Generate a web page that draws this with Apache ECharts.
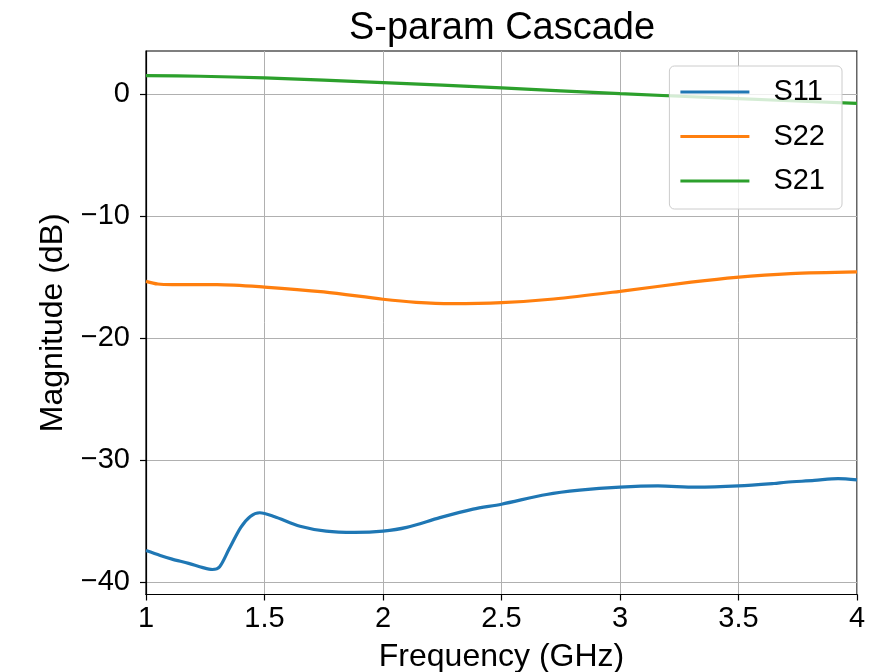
<!DOCTYPE html>
<html>
<head>
<meta charset="utf-8">
<script src="https://cdn.jsdelivr.net/npm/echarts@6/dist/echarts.min.js"></script>
<style>
  html, body { margin: 0; padding: 0; background: #fff; }
  #chart { width: 893px; height: 672px; }
</style>
</head>
<body>
<div id="chart"></div>
<script>
// Frequency sweep (GHz) and magnitudes (dB) for each S-parameter
const s11Freq = [1.00, 1.06, 1.11, 1.18, 1.24, 1.28, 1.31, 1.35, 1.40, 1.44, 1.48, 1.54, 1.65, 1.76, 1.88, 2.00, 2.10, 2.24, 2.38, 2.50, 2.69, 2.83, 3.00, 3.16, 3.32, 3.50, 3.65, 3.70, 3.82, 3.92, 4.00];
const s11Mag  = [-37.4, -37.8, -38.1, -38.45, -38.8, -38.95, -38.75, -37.3, -35.5, -34.6, -34.3, -34.6, -35.4, -35.8, -35.9, -35.8, -35.5, -34.7, -34.0, -33.6, -32.8, -32.45, -32.2, -32.1, -32.2, -32.1, -31.9, -31.8, -31.65, -31.5, -31.6];

const s22Freq = [1.00, 1.05, 1.11, 1.30, 1.50, 1.75, 2.00, 2.14, 2.29, 2.50, 2.72, 3.00, 3.30, 3.49, 3.72, 4.00];
const s22Mag  = [-15.33, -15.55, -15.6, -15.6, -15.8, -16.2, -16.8, -17.05, -17.16, -17.08, -16.78, -16.15, -15.4, -15.0, -14.7, -14.56];

const s21Freq = [1.00, 1.23, 1.50, 2.00, 2.50, 3.00, 3.50, 4.00];
const s21Mag  = [1.53, 1.48, 1.34, 0.96, 0.52, 0.05, -0.36, -0.74];

const yTicks = [-40, -30, -20, -10, 0];
const seriesNames = ['S11', 'S22', 'S21'];
const seriesColors = ['#1f77b4', '#ff7f0e', '#2ca02c'];

const pairs = (xs, ys) => xs.map((x, i) => [x, ys[i]]);
const minusFmt = v => (v < 0 ? '\u2212' + Math.abs(v) : String(v));

const FONT = '"Liberation Sans", Arial, Helvetica, sans-serif';

const chart = echarts.init(document.getElementById('chart'), null, { renderer: 'canvas' });

const mkSeries = (name, data, color) => ({
  name: name,
  type: 'line',
  data: data,
  showSymbol: false,
  smooth: 0.3,
  lineStyle: { color: color, width: 3.2 },
  itemStyle: { color: color },
  clip: true,
  animation: false
});

chart.setOption({
  animation: false,
  backgroundColor: '#ffffff',
  title: {
    text: 'S-param Cascade',
    left: 497,
    textAlign: 'center',
    top: 5,
    textStyle: { fontFamily: FONT, fontSize: 38, fontWeight: 'normal', color: '#000' }
  },
  grid: {
    left: 146, right: 36, top: 51, bottom: 77.5,
    show: true, borderColor: '#000', borderWidth: 1.2,
    containLabel: false,
    outerBoundsMode: 'none'
  },
  legend: {
    data: seriesNames.map((n, i) => ({ name: n, icon: 'rect', itemStyle: { color: seriesColors[i] } })),
    orient: 'vertical',
    right: 51,
    top: 66,
    itemWidth: 69,
    itemHeight: 3,
    itemGap: 14.5,
    padding: [11, 17, 13, 11],
    backgroundColor: 'rgba(255,255,255,0.8)',
    borderColor: '#cccccc',
    borderWidth: 1,
    borderRadius: 5,
    textStyle: { fontFamily: FONT, fontSize: 29, color: '#000', lineHeight: 30, padding: [0, 0, 0, 19] }
  },
  xAxis: {
    type: 'value',
    min: 1, max: 4, interval: 0.5,
    name: 'Frequency (GHz)',
    nameLocation: 'middle',
    nameGap: 47,
    nameTextStyle: { fontFamily: FONT, fontSize: 32, color: '#000' },
    axisLine: { show: true, onZero: false, lineStyle: { color: '#000', width: 1.2 } },
    axisTick: { show: true, inside: false, length: 6, lineStyle: { color: '#000', width: 1.2 } },
    axisLabel: { fontFamily: FONT, fontSize: 29, color: '#000', margin: 10, formatter: v => String(v) },
    splitLine: { show: true, lineStyle: { color: '#b0b0b0', width: 1 } }
  },
  yAxis: {
    type: 'value',
    min: -41.0, max: 3.55,
    name: 'Magnitude (dB)',
    nameLocation: 'middle',
    nameRotate: 90,
    nameGap: 77,
    nameTextStyle: { fontFamily: FONT, fontSize: 32, color: '#000' },
    axisLine: { show: true, onZero: false, lineStyle: { color: '#000', width: 1.2 } },
    axisTick: { show: true, inside: false, length: 6, customValues: yTicks, lineStyle: { color: '#000', width: 1.2 } },
    axisLabel: { fontFamily: FONT, fontSize: 29, color: '#000', margin: 16, customValues: yTicks, formatter: minusFmt },
    splitLine: { show: true, lineStyle: { color: '#b0b0b0', width: 1 } }
  },
  series: [
    mkSeries('S11', pairs(s11Freq, s11Mag), seriesColors[0]),
    mkSeries('S22', pairs(s22Freq, s22Mag), seriesColors[1]),
    mkSeries('S21', pairs(s21Freq, s21Mag), seriesColors[2])
  ]
});
</script>
</body>
</html>
